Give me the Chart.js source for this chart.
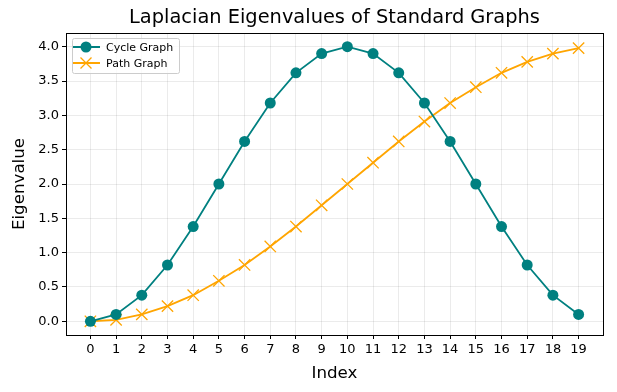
<!DOCTYPE html>
<html>
<head>
<meta charset="utf-8">
<script src="https://cdn.jsdelivr.net/npm/chart.js@4.4.0/dist/chart.umd.min.js"></script>
<style>
  html, body { margin: 0; padding: 0; background: #fff; }
  #wrap { width: 617px; height: 392px; }
</style>
</head>
<body>
<div id="wrap"><canvas id="grafico"></canvas></div>
<script>
// ===== DADOS =====
const indices = [0, 1, 2, 3, 4, 5, 6, 7, 8, 9, 10, 11, 12, 13, 14, 15, 16, 17, 18, 19];
const cicloValores = [0.00, 0.10, 0.38, 0.82, 1.38, 2.00, 2.62, 3.18, 3.62, 3.90, 4.00, 3.90, 3.62, 3.18, 2.62, 2.00, 1.38, 0.82, 0.38, 0.10];
const caminhoValores = [0.00, 0.02, 0.10, 0.22, 0.38, 0.59, 0.82, 1.09, 1.38, 1.69, 2.00, 2.31, 2.62, 2.91, 3.18, 3.41, 3.62, 3.78, 3.90, 3.98];
const yTicks = [0, 0.5, 1, 1.5, 2, 2.5, 3, 3.5, 4];

const fonte = "'DejaVu Sans', sans-serif";
const corCiclo = "#008080";
const corCaminho = "#FFA500";

// moldura, titulo e legenda no estilo matplotlib
const extras = {
    id: "extras",
    afterDraw(chart) {
        const { ctx, chartArea: a } = chart;
        ctx.save();
        ctx.strokeStyle = "#000";
        ctx.lineWidth = 1;
        ctx.strokeRect(a.left + 0.5, a.top + 0.5, a.right - a.left, a.bottom - a.top);

        ctx.fillStyle = "#000";
        ctx.font = "19.4px " + fonte;
        ctx.textAlign = "center";
        ctx.textBaseline = "middle";
        ctx.fillText("Laplacian Eigenvalues of Standard Graphs", (a.left + a.right) / 2, 18);

        // legenda
        const lx = a.left + 6, ly = a.top + 5;
        ctx.fillStyle = "rgba(255,255,255,0.8)";
        ctx.strokeStyle = "#ccc";
        ctx.beginPath();
        ctx.roundRect(lx + 0.5, ly + 0.5, 107, 35, 2);
        ctx.fill();
        ctx.stroke();

        const itens = [
            { label: "Cycle Graph", cor: corCiclo, tipo: "circle" },
            { label: "Path Graph", cor: corCaminho, tipo: "x" }
        ];
        itens.forEach((it, i) => {
            const y = ly + 9 + i * 16;
            ctx.strokeStyle = it.cor;
            ctx.lineWidth = 2;
            ctx.beginPath();
            ctx.moveTo(lx + 1, y);
            ctx.lineTo(lx + 28, y);
            ctx.stroke();
            const cx = lx + 14;
            if (it.tipo === "circle") {
                ctx.fillStyle = it.cor;
                ctx.beginPath();
                ctx.arc(cx, y, 5.5, 0, Math.PI * 2);
                ctx.fill();
            } else {
                ctx.lineWidth = 1.3;
                ctx.beginPath();
                ctx.moveTo(cx - 5.5, y - 5.5); ctx.lineTo(cx + 5.5, y + 5.5);
                ctx.moveTo(cx - 5.5, y + 5.5); ctx.lineTo(cx + 5.5, y - 5.5);
                ctx.stroke();
            }
            ctx.fillStyle = "#000";
            ctx.font = "11px " + fonte;
            ctx.textAlign = "left";
            ctx.textBaseline = "middle";
            ctx.fillText(it.label, lx + 34, y + 1);
        });
        ctx.restore();
    }
};

document.addEventListener("DOMContentLoaded", () => {
    const canvas = document.getElementById("grafico");

    new Chart(canvas, {
        type: "line",
        data: {
            datasets: [
                {
                    label: "Cycle Graph",
                    data: indices.map((x, i) => ({ x: x, y: cicloValores[i] })),
                    borderColor: corCiclo,
                    backgroundColor: corCiclo,
                    borderWidth: 1.8,
                    pointStyle: "circle",
                    pointRadius: 5.5,
                    pointBorderWidth: 0,
                    pointBackgroundColor: corCiclo
                },
                {
                    label: "Path Graph",
                    data: indices.map((x, i) => ({ x: x, y: caminhoValores[i] })),
                    borderColor: corCaminho,
                    backgroundColor: corCaminho,
                    borderWidth: 1.8,
                    pointStyle: "crossRot",
                    pointRadius: 8,
                    pointBorderWidth: 1.3,
                    pointBorderColor: corCaminho
                }
            ]
        },
        options: {
            responsive: true,
            maintainAspectRatio: false,
            animation: false,
            layout: { padding: { top: 33, right: 14, left: 0, bottom: 0 } },
            plugins: {
                legend: { display: false },
                title: { display: false },
                tooltip: { enabled: false }
            },
            scales: {
                x: {
                    type: "linear",
                    min: -0.95,
                    max: 19.95,
                    afterBuildTicks: (s) => { s.ticks = indices.map(v => ({ value: v })); },
                    afterFit: (s) => { s.height = 57; },
                    grid: { color: "rgba(0,0,0,0.08)", tickColor: "#000", tickLength: 4 },
                    border: { display: false },
                    ticks: {
                        color: "#000",
                        font: { family: fonte, size: 13 },
                        padding: 3,
                        maxRotation: 0,
                        autoSkip: false,
                        callback: (v) => String(v)
                    },
                    title: {
                        display: true,
                        text: "Index",
                        color: "#000",
                        font: { family: fonte, size: 16.7 },
                        padding: { top: 0, bottom: 8 }
                    }
                },
                y: {
                    min: -0.2,
                    max: 4.2,
                    afterBuildTicks: (s) => { s.ticks = yTicks.map(v => ({ value: v })); },
                    afterFit: (s) => { s.width = 66; },
                    grid: { color: "rgba(0,0,0,0.08)", tickColor: "#000", tickLength: 4 },
                    border: { display: false },
                    ticks: {
                        color: "#000",
                        font: { family: fonte, size: 13 },
                        padding: 3,
                        callback: (v) => Number(v).toFixed(1)
                    },
                    title: {
                        display: true,
                        text: "Eigenvalue",
                        color: "#000",
                        font: { family: fonte, size: 16.7 },
                        padding: { top: 10, bottom: 0 }
                    }
                }
            }
        },
        plugins: [extras]
    });
});
</script>
</body>
</html>
